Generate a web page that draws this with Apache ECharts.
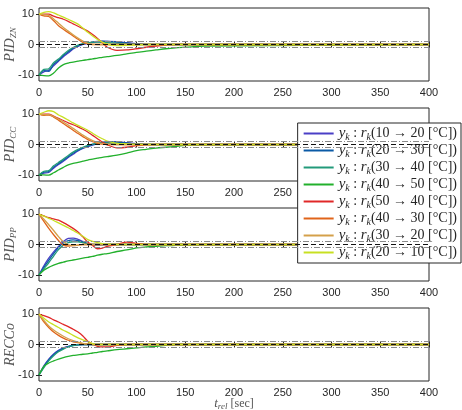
<!DOCTYPE html>
<html>
<head>
<meta charset="utf-8">
<script src="https://cdn.jsdelivr.net/npm/echarts@6/dist/echarts.min.js"></script>
<style>
html,body{margin:0;padding:0;background:#fff;}
#main{width:462px;height:410px;}
</style>
</head>
<body>
<div id="main"></div>
<script>
// time axis (sec) shared by every curve
var tSec = [0,5,10,15,20,25,30,35,40,45,50,55,60,65,70,80,90,100,110,120,130,140,150,170,400];

// legend entries
var stepNames = ['10 → 20','20 → 30','30 → 40','40 → 50','50 → 40','40 → 30','30 → 20','20 → 10'];
var lineColors = ['#4a3fc6','#0b5aa6','#239a7a','#22b02c','#e02828','#e0641a','#d4a04a','#c8e022'];

// PID_ZN
var zn1 = [-10,-9,-8.5,-7,-5.5,-4,-2.8,-1.5,-0.6,0,0.4,0.7,0.9,1,1,0.9,0.6,0.3,0.1,0,0,0,0,0,0];
var zn2 = [-10,-8.6,-8.8,-6.5,-5.2,-3.6,-2.4,-1.2,-0.4,0.1,0.5,0.8,1,1.1,1,0.8,0.5,0.2,0,0,0,0,0,0,0];
var zn3 = [-10,-8.2,-8,-6,-4.8,-3.3,-2,-1,-0.2,0.3,0.6,0.8,0.8,0.7,0.6,0.4,0.2,0,0,0,0,0,0,0,0];
var zn4 = [-10,-10.2,-10.3,-9.4,-7.7,-6.6,-6.1,-5.8,-5.5,-5.2,-5,-4.7,-4.5,-4.2,-4,-3.6,-3.1,-2.6,-2.2,-1.8,-1.4,-1.1,-0.9,-0.5,0];
var zn5 = [10,10,10,9.3,8.8,8.3,7.6,6.8,6,5.2,4.4,3.3,2,0.6,-0.9,-1.9,-1.8,-1.4,-0.9,-0.5,-0.2,0,0,0,0];
var zn6 = [10,9.4,9.2,7.8,6.2,5,3.9,2.8,1.7,0.7,0.2,0,0,0,0,0,0,0,0,0,0,0,0,0,0];
var zn7 = [10,9.8,9.6,8.4,7,5.6,4.4,3.2,2.1,1.1,0.4,0.1,0,0,0,0,0,0,0,0,0,0,0,0,0];
var zn8 = [10,10.6,10.8,10.4,9.7,9,8.3,7.5,6.7,5.4,4,2.8,1.7,0.8,0.1,-0.4,-0.3,-0.1,0,0,0,0,0,0,0];

// PID_CC
var cc1 = [-10,-9.4,-9.2,-7.8,-6.6,-5.5,-4.3,-3.2,-2.1,-1.3,-0.7,-0.2,0.2,0.5,0.7,0.9,0.6,0.3,0.1,0,0,0,0,0,0];
var cc2 = [-10,-9.1,-8.9,-7.4,-6.3,-5.2,-4,-2.9,-1.9,-1.1,-0.5,0,0.4,0.7,0.9,0.8,0.5,0.2,0,0,0,0,0,0,0];
var cc3 = [-10,-8.8,-8.6,-7,-5.9,-4.8,-3.6,-2.5,-1.6,-0.9,-0.3,0.1,0.4,0.5,0.5,0.4,0.2,0,0,0,0,0,0,0,0];
var cc4 = [-10,-10,-10.1,-9.3,-8.4,-7.5,-6.7,-6.2,-5.9,-5.5,-5.1,-4.8,-4.5,-4.2,-4,-3.5,-2.8,-2,-1.6,-1.2,-0.9,-0.6,-0.3,-0.1,0];
var cc5 = [10,10,10,9.3,8.6,7.9,7.1,6.5,5.8,5,4.1,3,1.9,0.8,-0.1,-1.1,-0.9,-0.4,-0.1,0,0,0,0,0,0];
var cc6 = [10,9.6,9.7,9,8,6.9,5.8,4.7,3.6,2.6,1.6,0.9,0.4,0.1,0,0,0,0,0,0,0,0,0,0,0];
var cc7 = [10,9.8,9.8,9.2,8.4,7.4,6.4,5.3,4.2,3.1,2.1,1.3,0.7,0.3,0.1,0,0,0,0,0,0,0,0,0,0];
var cc8 = [10,10.6,11.1,10.8,9.7,8.9,8,7.1,6.3,5.5,4.7,3.7,2.7,1.9,1.1,0.4,0.2,0,0,0,0,0,0,0,0];

// PID_PP
var pp1 = [-10,-7,-4.5,-2.4,-0.6,1,2,2.1,1.7,1,0.3,-0.1,-0.2,-0.1,0,0,0,0,0,0,0,0,0,0,0];
var pp2 = [-10,-7.5,-5.2,-3,-1,0.5,1.3,1.5,1.3,0.8,0.3,0,0,0,0,0,0,0,0,0,0,0,0,0,0];
var pp3 = [-10,-8,-6,-3.8,-1.7,-0.2,0.6,0.9,0.9,0.6,0.2,0,0,0,0,0,0,0,0,0,0,0,0,0,0];
var pp4 = [-10,-8.5,-7.5,-6.8,-6.2,-5.8,-5.4,-5.1,-4.8,-4.5,-4.2,-3.9,-3.5,-3.2,-3,-2.3,-1.8,-1.1,-0.8,-0.6,-0.4,-0.3,-0.2,-0.1,0];
var pp5 = [10,9.4,8.8,8.4,8,7.2,6.3,5.3,4.1,2.5,0.8,-0.3,-1.4,-1.2,-0.6,0,0.8,0.4,0,0,0,0,0,0,0];
var pp6 = [10,7.6,5.3,3.2,1.3,-0.2,-0.5,-0.4,-0.2,0,0,0,0,0,0,0,0,0,0,0,0,0,0,0,0];
var pp7 = [10,8.3,6.5,4.6,2.6,0.9,0,-0.3,-0.2,0,0,0,0,0,0,0,0,0,0,0,0,0,0,0,0];
var pp8 = [10,9.3,8.6,7.9,7.1,6.3,5.5,4.6,3.7,2.7,1.6,1,0.6,0.3,0.1,0,0,0,0,0,0,0,0,0,0];

// RECCo
var re1 = [-10,-7,-4.8,-3.1,-1.9,-1.1,-0.6,-0.3,-0.1,0,0,0,0,0,0,0,0,0,0,0,0,0,0,0,0];
var re2 = [-10,-7.3,-5.1,-3.4,-2.1,-1.3,-0.7,-0.3,-0.1,0,0,0,0,0,0,0,0,0,0,0,0,0,0,0,0];
var re3 = [-10,-7.6,-5.4,-3.7,-2.4,-1.5,-0.8,-0.4,-0.1,0,0,0,0,0,0,0,0,0,0,0,0,0,0,0,0];
var re4 = [-10,-7.2,-6.1,-5.4,-4.8,-4.3,-3.9,-3.6,-3.4,-3.2,-3.1,-2.8,-2.6,-2.3,-2.1,-1.7,-1.4,-1.1,-0.8,-0.6,-0.3,0,0,0,0];
var re5 = [10,9.5,8.9,8.1,7.4,6.6,5.9,5,4.1,2.8,1.1,0.2,-0.6,-0.8,-0.8,-0.3,0,0,0,0,0,0,0,0,0];
var re6 = [10,7.4,5.6,4.1,3,2.1,1.4,0.9,0.6,0.3,0.1,0,0,0,0,0,0,0,0,0,0,0,0,0,0];
var re7 = [10,7.9,6.1,4.8,3.7,2.7,1.9,1.3,0.8,0.4,0.2,0,0,0,0,0,0,0,0,0,0,0,0,0,0];
var re8 = [10,8.6,7.4,6.5,5.6,4.7,3.9,3,2.2,1.5,0.9,0.3,0,0,0,0,0,0,0,0,0,0,0,0,0];

var panelCurves = [
	[zn1,zn2,zn3,zn4,zn5,zn6,zn7,zn8],
	[cc1,cc2,cc3,cc4,cc5,cc6,cc7,cc8],
	[pp1,pp2,pp3,pp4,pp5,pp6,pp7,pp8],
	[re1,re2,re3,re4,re5,re6,re7,re8]
];
var panelNames = ['{m|PID}{s|ZN}','{m|PID}{s|CC}','{m|PID}{s|PP}','{m|RECCo}'];

var yTicks = [-10,0,10];
var bandLevels = [1,-1];   // tolerance band
var zeroLevel = 0;

var axisColor = '#262626';
var serif = 'Liberation Serif';

var grids = [], xAxes = [], yAxes = [], series = [];

for (var p = 0; p < 4; p++) {
	var gridTop = 8 + p * 100;
	grids.push({left: 39, top: gridTop, width: 390, height: 73, show: true,
		outerBoundsMode: 'none', containLabel: false,
		borderColor: axisColor, borderWidth: 1});

	var xMain = {
		gridIndex: p, type: 'value', min: 0, max: 400, interval: 50,
		axisLine: {show: false},
		axisTick: {inside: true, length: 3, lineStyle: {color: axisColor}},
		axisLabel: {margin: 6, color: axisColor, fontSize: 11, fontFamily: 'Liberation Sans'},
		splitLine: {show: false}
	};
	if (p == 3) {
		xMain.name = '{t|t}{s|rel}{n| [sec]}';
		xMain.nameLocation = 'middle';
		xMain.nameGap = 15;
		xMain.nameMoveOverlap = false;
		xMain.nameTextStyle = {color: '#555', rich: {
			t: {fontFamily: serif, fontStyle: 'italic', fontSize: 13, lineHeight: 15},
			s: {fontFamily: serif, fontStyle: 'italic', fontSize: 9, lineHeight: 9, verticalAlign: 'bottom'},
			n: {fontFamily: serif, fontSize: 12, lineHeight: 15}
		}};
	}
	xAxes.push(xMain);
	xAxes.push({
		gridIndex: p, type: 'value', min: 0, max: 400, interval: 50, position: 'top',
		axisLine: {show: false},
		axisTick: {inside: true, length: 3, lineStyle: {color: axisColor}},
		axisLabel: {show: false}, splitLine: {show: false}
	});

	yAxes.push({
		gridIndex: p, type: 'value', min: -12, max: 12, interval: 2,
		axisLine: {show: false},
		axisTick: {inside: true, length: 3, customValues: yTicks, lineStyle: {color: axisColor}},
		axisLabel: {customValues: yTicks, margin: 5, color: axisColor, fontSize: 11, fontFamily: 'Liberation Sans'},
		splitLine: {show: false},
		name: panelNames[p], nameLocation: 'middle', nameRotate: 90, nameGap: 21,
		nameMoveOverlap: false,
		nameTextStyle: {color: '#555', rich: {
			m: {fontFamily: serif, fontStyle: 'italic', fontSize: 14, lineHeight: 16},
			s: {fontFamily: serif, fontStyle: 'italic', fontSize: 9, lineHeight: 9, verticalAlign: 'bottom'}
		}}
	});
	yAxes.push({
		gridIndex: p, type: 'value', min: -12, max: 12, interval: 2, position: 'right',
		axisLine: {show: false},
		axisTick: {inside: true, length: 3, customValues: yTicks, lineStyle: {color: axisColor}},
		axisLabel: {show: false}, splitLine: {show: false}
	});

	// reference lines (0 and +-1 band)
	var mk = [];
	for (var b = 0; b < bandLevels.length; b++) {
		mk.push({yAxis: bandLevels[b], lineStyle: {color: '#8a8a8a', width: 1, type: [6,2,1,2]}});
	}
	mk.push({yAxis: zeroLevel, lineStyle: {color: '#111', width: 1, type: [5,3]}});

	for (var i = 0; i < 8; i++) {
		var vals = panelCurves[p][i];
		var pts = [];
		for (var k = 0; k < tSec.length; k++) pts.push([tSec[k], vals[k]]);
		var s = {
			name: stepNames[i], type: 'line', xAxisIndex: 2 * p, yAxisIndex: 2 * p,
			data: pts, showSymbol: false, smooth: 0.3,
			itemStyle: {color: lineColors[i]},
			lineStyle: {width: 1.3, color: lineColors[i]}
		};
		if (i == 7) {
			s.markLine = {silent: true, symbol: 'none', label: {show: false}, data: mk};
		}
		series.push(s);
	}
}

var myChart = echarts.init(document.getElementById('main'));
var option = {
	animation: false,
	backgroundColor: '#fff',
	grid: grids,
	xAxis: xAxes,
	yAxis: yAxes,
	legend: {
		data: stepNames,
		orient: 'vertical',
		right: 1, top: 123,
		backgroundColor: '#fff',
		borderColor: axisColor, borderWidth: 1, borderRadius: 0,
		padding: [3, 4, 2, 6],
		icon: 'rect', itemWidth: 30, itemHeight: 2, itemGap: 1,
		textStyle: {color: axisColor, fontFamily: serif, fontSize: 14,
			rich: {
				i: {fontFamily: serif, fontStyle: 'italic', fontSize: 15, lineHeight: 17},
				s: {fontFamily: serif, fontStyle: 'italic', fontSize: 10, lineHeight: 10, verticalAlign: 'bottom'},
				n: {fontFamily: serif, fontSize: 14, lineHeight: 17}
			}
		},
		formatter: function (n) {
			return '{i|y}{s|k}{n| : }{i|r}{s|k}{n|(' + n + ' [°C])}';
		}
	},
	series: series
};
myChart.setOption(option);
</script>
</body>
</html>
